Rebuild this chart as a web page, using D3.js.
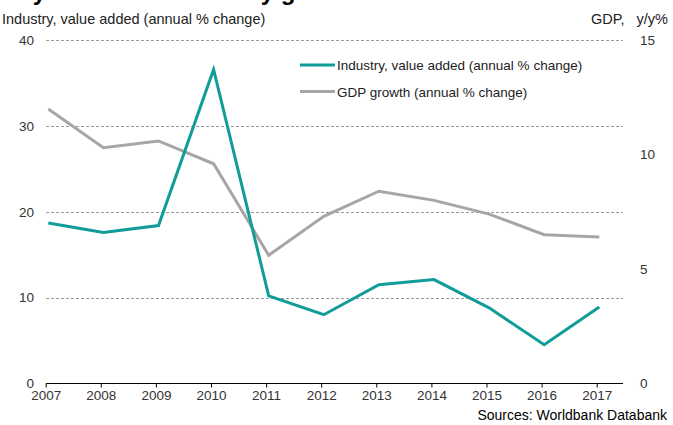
<!DOCTYPE html>
<html>
<head>
<meta charset="utf-8">
<script src="https://cdn.jsdelivr.net/npm/d3@7"></script>
<style>
  body { margin: 0; background: #fff; }
  svg { font-family: "Liberation Sans", Arial, sans-serif; }
  .tick text { font-size: 13.5px; fill: #333; }
</style>
</head>
<body>
<div id="chart"></div>
<script>
const years = [2007, 2008, 2009, 2010, 2011, 2012, 2013, 2014, 2015, 2016, 2017];
const industry = [18.7, 17.6, 18.4, 36.6, 10.2, 8.0, 11.5, 12.1, 8.8, 4.5, 8.9];
const gdp = [12.0, 10.3, 10.6, 9.6, 5.6, 7.3, 8.4, 8.0, 7.4, 6.5, 6.4];
const leftTicks = [0, 10, 20, 30, 40];
const rightTicks = [0, 5, 10, 15];

const W = 673, H = 425;
const TEAL = "#109c98", GREY = "#a6a6a6";
const FS = 13.5;

const svg = d3.select("#chart").append("svg")
  .attr("width", W).attr("height", H);

// clipped title, only its descenders show at the top edge
svg.append("text")
  .attr("x", 2).attr("y", 0)
  .attr("font-size", 24).attr("font-weight", "bold").attr("fill", "#000")
  .text("Key drivers of economy growth");

const plotL = 46, plotR = 623;
const xScale = d3.scaleLinear().domain([2007, 2017]).range([48.3, 599.3]);
const xTick = xScale.copy().range([45.7, 596.7]);
const yLeft = d3.scaleLinear().domain([0, 40]).range([383.3, 40.3]);
const yRight = d3.scaleLinear().domain([0, 15]).range([383.3, 40.3]);

// grid lines
svg.append("g").selectAll("line")
  .data(leftTicks.filter(d => d > 0))
  .join("line")
  .attr("x1", plotL).attr("x2", plotR)
  .attr("y1", d => Math.round(yLeft(d)) + 0.5).attr("y2", d => Math.round(yLeft(d)) + 0.5)
  .attr("stroke", "#999").attr("stroke-dasharray", "3,2");

// left axis labels
svg.append("g")
  .attr("transform", `translate(${plotL},0)`)
  .call(d3.axisLeft(yLeft).tickValues(leftTicks).tickSize(0).tickPadding(12))
  .call(g => g.select(".domain").remove())
  .call(g => g.selectAll("text").attr("font-family", null).attr("font-size", null));

// right axis labels
svg.append("g")
  .attr("transform", `translate(${plotR},0)`)
  .call(d3.axisRight(yRight).tickValues(rightTicks).tickSize(0).tickPadding(17))
  .call(g => g.select(".domain").remove())
  .call(g => g.selectAll("text").attr("font-family", null).attr("font-size", null));

// x axis
svg.append("g")
  .attr("transform", `translate(0,${Math.round(yLeft(0)) + 0.5})`)
  .call(d3.axisBottom(xTick).tickValues(years).tickFormat(d3.format("d")).tickSize(4).tickPadding(3))
  .call(g => g.select(".domain").remove())
  .call(g => g.selectAll("text").attr("font-family", null).attr("font-size", null))
  .call(g => g.selectAll(".tick line").attr("stroke", "#000"));

svg.append("line")
  .attr("x1", plotL).attr("x2", plotR)
  .attr("y1", Math.round(yLeft(0)) + 0.5).attr("y2", Math.round(yLeft(0)) + 0.5)
  .attr("stroke", "#000").attr("stroke-width", 1.2);

// series
const lineLeft = d3.line().x((d, i) => xScale(years[i])).y(d => yLeft(d));
const lineRight = d3.line().x((d, i) => xScale(years[i])).y(d => yRight(d));

svg.append("path").datum(gdp)
  .attr("d", lineRight)
  .attr("fill", "none").attr("stroke", GREY).attr("stroke-width", 3)
  .attr("stroke-linejoin", "miter");

svg.append("path").datum(industry)
  .attr("d", lineLeft)
  .attr("fill", "none").attr("stroke", TEAL).attr("stroke-width", 3)
  .attr("stroke-linejoin", "miter");

// axis titles
svg.append("text")
  .attr("x", 2).attr("y", 24)
  .attr("font-size", 14.5).attr("fill", "#222")
  .text("Industry, value added (annual % change)");

svg.append("text")
  .attr("x", 668).attr("y", 24).attr("text-anchor", "end")
  .attr("font-size", 14.5).attr("fill", "#222")
  .text("GDP,\u00a0\u00a0 y/y%");

// legend
const legend = [
  { label: "Industry, value added (annual % change)", color: TEAL },
  { label: "GDP growth (annual % change)", color: GREY }
];
const lg = svg.append("g").selectAll("g").data(legend).join("g")
  .attr("transform", (d, i) => `translate(300,${65 + i * 26.5})`);
lg.append("line")
  .attr("x1", 0).attr("x2", 35)
  .attr("stroke", d => d.color).attr("stroke-width", 3);
lg.append("text")
  .attr("x", 37).attr("y", 5)
  .attr("font-size", FS).attr("fill", "#222")
  .text(d => d.label);

// source
svg.append("text")
  .attr("x", 667).attr("y", 420).attr("text-anchor", "end")
  .attr("font-size", 14).attr("fill", "#000")
  .text("Sources: Worldbank Databank");
</script>
</body>
</html>
